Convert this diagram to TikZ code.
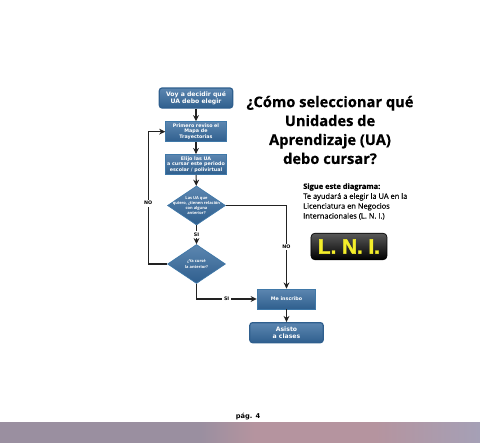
\documentclass[tikz,border=0pt]{standalone}
\usepackage{fontspec}
\setmainfont{Open Sans}
\newfontfamily\boxfont{DejaVu Sans}
\newfontfamily\titlefont[FakeBold=0.6]{Open Sans}
\newfontfamily\notefont[FakeBold=0.25]{Open Sans}
\newfontfamily\lnifont[FakeBold=1.5]{Liberation Sans}
\usepackage{tikz}
\usetikzlibrary{arrows.meta,positioning,shapes.geometric}
\definecolor{flowtop}{HTML}{5C86B0}
\definecolor{flowbot}{HTML}{2F5F8E}
\definecolor{flowedge}{HTML}{3F78A8}
\definecolor{darkline}{HTML}{222222}
\definecolor{lniyellow}{HTML}{F4EE2A}
\definecolor{bandleft}{HTML}{9A8FA0}
\definecolor{bandmid}{HTML}{B5949F}
\definecolor{bandright}{HTML}{A5A0B6}
\begin{document}
\begin{tikzpicture}[
  x=0.75pt,y=-0.75pt,
  flowbox/.style={draw=flowedge,line width=0.6pt,top color=flowtop,bottom color=flowbot,
    text=white,align=center,inner sep=0pt,font=\boxfont\bfseries\fontsize{3.6}{4.2}\selectfont},
  roundbox/.style={flowbox,rounded corners=2pt,draw=flowbot,line width=0.9pt,font=\boxfont\bfseries\fontsize{4.6}{5.6}\selectfont},
  decision/.style={diamond,draw=flowedge,line width=0.5pt,top color=flowtop,bottom color=flowbot,
    minimum width=43.5pt,minimum height=29.25pt,inner sep=0pt},
  dlbl/.style={text=white,align=center,inner sep=0pt,font=\bfseries\fontsize{3}{3.8}\selectfont},
  tag/.style={fill=white,inner sep=1.2pt,text=black,font=\boxfont\bfseries\fontsize{3.6}{3.6}\selectfont},
  flow/.style={-{Stealth[length=4.6pt,width=4.4pt]},darkline,line width=0.85pt},
]
\useasboundingbox (0,0) rectangle (480,443);
% bottom band
\shade[left color=bandleft,right color=bandleft] (0,422) rectangle (200,443);
\shade[left color=bandleft,right color=bandmid] (200,422) rectangle (255,443);
\shade[left color=bandmid,right color=bandmid] (255,422) rectangle (375,443);
\shade[left color=bandmid,right color=bandright] (375,422) rectangle (480,443);
\node[font=\boxfont\bfseries\fontsize{5}{5}\selectfont,inner sep=0pt] (page) at (248,417) {pág. 4};

% flow
\node[roundbox,minimum width=55pt,minimum height=15pt] (start) at (196,98) {Voy a decidir qué\\UA debo elegir};
\node[flowbox,minimum width=45.5pt,minimum height=15pt,below=9.5pt of start] (mapa) {Primero reviso el\\Mapa de\\Trayectorias};
\node[flowbox,minimum width=45.5pt,minimum height=15pt,below=9pt of mapa] (elijo) {Elijo las UA\\a cursar este periodo\\escolar / polivirtual};
\node[decision,label={[dlbl]center:{Las UA que\\quiero, ¿tienen relación\\con alguna\\anterior?}}] (rel) at (196.5,205.5) {};
\node[decision,label={[dlbl]center:{¿Ya cursé\\la anterior?}}] (ya) at (196.5,264) {};
\node[flowbox,minimum width=44pt,minimum height=15pt] (inscribo) at (286.5,299) {Me inscribo};
\node[roundbox,minimum width=55pt,minimum height=15pt,below=9.5pt of inscribo] (asisto) {Asisto\\a clases};

\draw[flow] (start) -- (mapa);
\draw[flow] (mapa) -- (elijo);
\draw[flow] (elijo) -- (rel);
\draw[flow] (rel) -- node[tag]{SI} (ya);
\draw[flow] (ya.west) -- ++(-19,0) |- node[tag,pos=0.23]{NO} (mapa.west);
\draw[flow] (rel.east) -| node[tag,pos=0.75]{NO} (inscribo.north);
\draw[flow] (ya.south) |- node[tag,pos=0.75]{SI} (inscribo.west);
\draw[flow] (inscribo) -- (asisto);

% title and note
\node[font=\titlefont\bfseries\fontsize{11}{14.2}\selectfont,align=center,inner sep=0pt] (title) at (330,130) {¿Cómo seleccionar qué\\Unidades de\\Aprendizaje (UA)\\debo cursar?};
\node[font=\notefont\fontsize{5.6}{7.4}\selectfont,align=left,inner sep=0pt,anchor=north west] (note) at (303,183) {\textbf{Sigue este diagrama:}\\Te ayudará a elegir la UA en la\\Licenciatura en Negocios\\Internacionales (L. N. I.)};
\node[rounded corners=3pt,draw=black,line width=0.5pt,top color=black!65,bottom color=black,text=lniyellow,
  minimum width=57pt,minimum height=20pt,inner sep=0pt,font=\lnifont\bfseries\fontsize{15.5}{15.5}\selectfont] (lni) at (349,246.5) {L. N. I.};
\end{tikzpicture}
\end{document}
